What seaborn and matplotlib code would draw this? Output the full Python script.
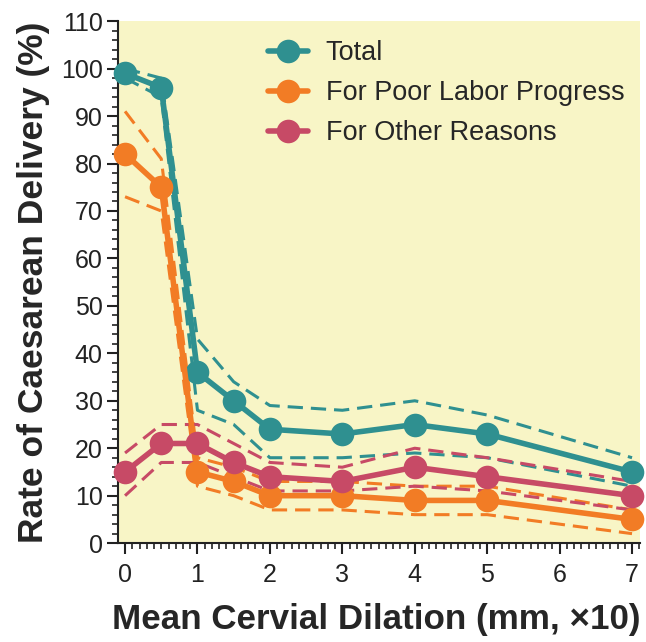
import matplotlib
matplotlib.use("Agg")
import matplotlib.pyplot as plt
from matplotlib.ticker import MultipleLocator
import seaborn as sns
import pandas as pd

dilation = [0, 0.5, 1, 1.5, 2, 3, 4, 5, 7]
total = [99, 96, 36, 30, 24, 23, 25, 23, 15]
total_upper = [100, 98, 43, 34, 29, 28, 30, 27, 18]
total_lower = [98, 94, 28, 25, 18, 18, 19, 18, 12]
poor = [82, 75, 15, 13, 10, 10, 9, 9, 5]
poor_upper = [91, 81, 18, 16, 13, 13, 12, 12, 7]
poor_lower = [73, 70, 12, 10, 7, 7, 6, 6, 2]
other = [15, 21, 21, 17, 14, 13, 16, 14, 10]
other_upper = [19, 25, 25, 21, 17, 16, 20, 18, 13]
other_lower = [10, 17, 17, 14, 11, 11, 12, 11, 7]

series_names = ["Total", "For Poor Labor Progress", "For Other Reasons"]
colors = ["#2f9090", "#f27c25", "#c74a66"]

sns.set_theme(style="ticks")
plt.rcParams['font.family'] = ['Liberation Sans', 'DejaVu Sans']

fig = plt.figure(figsize=(6.46, 6.42), dpi=100)
ax = fig.add_axes([0.1827, 0.154, 0.808, 0.813])
ax.set_facecolor("#f8f5c6")

means = [total, poor, other]
uppers = [total_upper, poor_upper, other_upper]
lowers = [total_lower, poor_lower, other_lower]

for name, col, m, u, l in zip(series_names, colors, means, uppers, lowers):
    for band in (u, l):
        dfb = pd.DataFrame({"x": dilation, "y": band})
        sns.lineplot(data=dfb, x="x", y="y", ax=ax, color=col, lw=2.2,
                     linestyle=(0, (5, 2.6)), legend=False, zorder=2)

for name, col, m in zip(series_names, colors, means):
    df = pd.DataFrame({"x": dilation, "y": m})
    sns.lineplot(data=df, x="x", y="y", ax=ax, color=col, lw=4,
                 marker="o", markersize=17, markeredgewidth=0,
                 label=name, zorder=3, clip_on=False)

ax.set_xlim(-0.097, 7.11)
ax.set_ylim(0, 110)
ax.xaxis.set_major_locator(MultipleLocator(1))
ax.xaxis.set_minor_locator(MultipleLocator(0.1))
ax.yaxis.set_major_locator(MultipleLocator(10))
ax.yaxis.set_minor_locator(MultipleLocator(2))
ax.tick_params(axis="both", which="major", length=8, width=1.5, labelsize=18,
               colors="#222222", pad=3)
ax.tick_params(axis="x", which="major", pad=6)
ax.tick_params(axis="both", which="minor", length=4, width=1.2, colors="#222222")
for s in ["top", "right"]:
    ax.spines[s].set_visible(False)
for s in ["left", "bottom"]:
    ax.spines[s].set_linewidth(1.5)
    ax.spines[s].set_color("#222222")

ax.set_xlabel("Mean Cervial Dilation (mm, \u00d710)", fontsize=25.2,
              fontweight="bold")
ax.set_ylabel("Rate of Caesarean Delivery (%)", fontsize=25.5,
              fontweight="bold", labelpad=8)
ax.xaxis.set_label_coords(0.495, -0.115)

leg = ax.legend(loc="upper left", bbox_to_anchor=(0.245, 1.005), frameon=False,
                fontsize=19.5, handlelength=1.5, handletextpad=0.65,
                labelspacing=0.52, borderaxespad=0.4)
for h in leg.legend_handles:
    h.set_markersize(17)

fig.savefig("out.png", dpi=100)
